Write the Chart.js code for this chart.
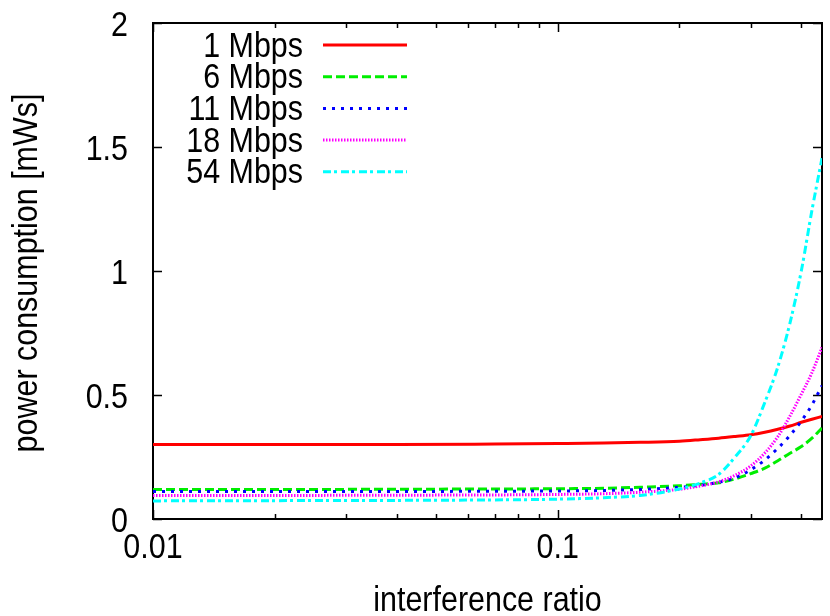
<!DOCTYPE html>
<html>
<head>
<meta charset="utf-8">
<script src="https://cdn.jsdelivr.net/npm/chart.js@4.4.0/dist/chart.umd.min.js"></script>
<style>
  html, body { margin: 0; padding: 0; background: #fff; }
</style>
</head>
<body>
<canvas id="power-chart" width="830" height="616"></canvas>
<script>
// Data
const interferenceRatio = [0.01, 0.02, 0.04, 0.07, 0.1, 0.13, 0.16, 0.2, 0.225, 0.25, 0.275, 0.3, 0.325, 0.35, 0.375, 0.4, 0.425, 0.45];
const rate1Mbps  = [0.300, 0.300, 0.300, 0.302, 0.304, 0.306, 0.309, 0.314, 0.320, 0.326, 0.333, 0.340, 0.350, 0.362, 0.375, 0.390, 0.402, 0.414];
const rate6Mbps  = [0.119, 0.119, 0.120, 0.121, 0.122, 0.124, 0.128, 0.134, 0.140, 0.146, 0.162, 0.183, 0.205, 0.235, 0.265, 0.292, 0.326, 0.367];
const rate11Mbps = [0.111, 0.111, 0.111, 0.112, 0.113, 0.115, 0.119, 0.128, 0.136, 0.148, 0.167, 0.198, 0.238, 0.285, 0.337, 0.395, 0.460, 0.538];
const rate18Mbps = [0.095, 0.095, 0.096, 0.097, 0.099, 0.102, 0.108, 0.120, 0.133, 0.150, 0.177, 0.214, 0.266, 0.332, 0.415, 0.503, 0.590, 0.692];
const rate54Mbps = [0.073, 0.074, 0.075, 0.077, 0.080, 0.086, 0.095, 0.121, 0.145, 0.180, 0.252, 0.336, 0.470, 0.613, 0.790, 1.000, 1.245, 1.455];

const seriesLabels = ['1 Mbps', '6 Mbps', '11 Mbps', '18 Mbps', '54 Mbps'];
const xMajorTicks = [0.01, 0.1];
const xMinorTicks = [0.02, 0.03, 0.04, 0.05, 0.06, 0.07, 0.08, 0.09, 0.2, 0.3, 0.4];
const yTicks = [0, 0.5, 1, 1.5, 2];
const xTitle = 'interference ratio';
const yTitle = 'power consumption [mWs]';

// the reference text is tall and a bit narrow, so it is drawn squeezed
const FONT = "35px 'Liberation Sans', Arial, sans-serif";
const SQUEEZE = 0.87;

function toPoints(values) {
  return values.map((v, i) => ({ x: interferenceRatio[i], y: v }));
}

function squeezedText(ctx, text, x, y, align, angle) {
  ctx.save();
  ctx.translate(x, y);
  if (angle) ctx.rotate(angle);
  ctx.scale(SQUEEZE, 1);
  ctx.textAlign = align;
  ctx.textBaseline = 'alphabetic';
  ctx.fillText(text, 0, 0);
  ctx.restore();
}

// gnuplot style frame with inward ticks on all four sides
const frameTicks = {
  id: 'frameTicks',
  beforeDatasetsDraw(chart) {
    const { ctx, chartArea: a, scales: { x, y } } = chart;
    ctx.save();
    ctx.strokeStyle = '#000';
    ctx.lineWidth = 1.5;
    ctx.beginPath();
    const xTick = (v, len) => {
      const px = Math.round(x.getPixelForValue(v)) + 0.5;
      ctx.moveTo(px, a.bottom); ctx.lineTo(px, a.bottom - len);
      ctx.moveTo(px, a.top); ctx.lineTo(px, a.top + len);
    };
    xMajorTicks.forEach(v => xTick(v, 9));
    xMinorTicks.forEach(v => xTick(v, 5));
    y.ticks.forEach(t => {
      const py = Math.round(y.getPixelForValue(t.value)) + 0.5;
      ctx.moveTo(a.left, py); ctx.lineTo(a.left + 9, py);
      ctx.moveTo(a.right, py); ctx.lineTo(a.right - 9, py);
    });
    ctx.stroke();
    ctx.lineWidth = 2;
    ctx.strokeRect(a.left, a.top, a.right - a.left, a.bottom - a.top);

    // tick labels and axis titles
    ctx.fillStyle = '#000';
    ctx.font = FONT;
    x.ticks.forEach(t => squeezedText(ctx, String(t.value), x.getPixelForValue(t.value), 558, 'center'));
    y.ticks.forEach(t => squeezedText(ctx, String(t.value), 128, y.getPixelForValue(t.value) + 12.5, 'right'));
    squeezedText(ctx, xTitle, (a.left + a.right) / 2, 611, 'center');
    squeezedText(ctx, yTitle, 37, (a.top + a.bottom) / 2 + 2, 'center', -Math.PI / 2);
    ctx.restore();
  }
};

// key in the upper left: label right-aligned, sample line to the right
const gnuplotKey = {
  id: 'gnuplotKey',
  afterDatasetsDraw(chart) {
    const { ctx } = chart;
    ctx.save();
    ctx.font = FONT;
    chart.data.datasets.forEach((ds, i) => {
      const yy = 45 + i * 31.7;
      ctx.fillStyle = '#000';
      squeezedText(ctx, ds.label, 303, yy + 11.5, 'right');
      ctx.strokeStyle = ds.borderColor;
      ctx.lineWidth = ds.borderWidth;
      ctx.setLineDash(ds.borderDash || []);
      ctx.beginPath();
      ctx.moveTo(323, yy);
      ctx.lineTo(407, yy);
      ctx.stroke();
    });
    ctx.restore();
  }
};

const ctx = document.getElementById('power-chart').getContext('2d');
new Chart(ctx, {
  type: 'line',
  data: {
    datasets: [
      { label: seriesLabels[0], data: toPoints(rate1Mbps),  borderColor: '#ff0000', borderWidth: 3, borderDash: [], order: 5 },
      { label: seriesLabels[1], data: toPoints(rate6Mbps),  borderColor: '#00ee00', borderWidth: 3, borderDash: [9, 4], order: 4 },
      { label: seriesLabels[2], data: toPoints(rate11Mbps), borderColor: '#0000ff', borderWidth: 3, borderDash: [3, 6], order: 3 },
      { label: seriesLabels[3], data: toPoints(rate18Mbps), borderColor: '#ff00ff', borderWidth: 3, borderDash: [1.5, 1.5], order: 2 },
      { label: seriesLabels[4], data: toPoints(rate54Mbps), borderColor: '#00ffff', borderWidth: 3, borderDash: [8, 3, 3, 4], order: 1 }
    ]
  },
  options: {
    responsive: false,
    animation: false,
    devicePixelRatio: 1,
    layout: { padding: { top: 23, right: 8, left: 0, bottom: 0 } },
    elements: {
      point: { radius: 0 },
      line: { tension: 0.4, cubicInterpolationMode: 'monotone', borderCapStyle: 'butt', fill: false }
    },
    plugins: {
      legend: { display: false },
      tooltip: { enabled: false }
    },
    scales: {
      x: {
        type: 'logarithmic',
        min: 0.01,
        max: 0.45,
        grid: { display: false, drawTicks: false },
        border: { display: false },
        afterBuildTicks: scale => { scale.ticks = xMajorTicks.map(v => ({ value: v, major: true })); },
        afterFit: scale => { scale.height = 97; scale.paddingLeft = 0; scale.paddingRight = 0; },
        ticks: { display: false }
      },
      y: {
        min: 0,
        max: 2,
        grid: { display: false, drawTicks: false },
        border: { display: false },
        afterBuildTicks: scale => { scale.ticks = yTicks.map(v => ({ value: v })); },
        afterFit: scale => { scale.width = 153; scale.paddingTop = 0; scale.paddingBottom = 0; },
        ticks: { display: false }
      }
    }
  },
  plugins: [frameTicks, gnuplotKey]
});
</script>
</body>
</html>
